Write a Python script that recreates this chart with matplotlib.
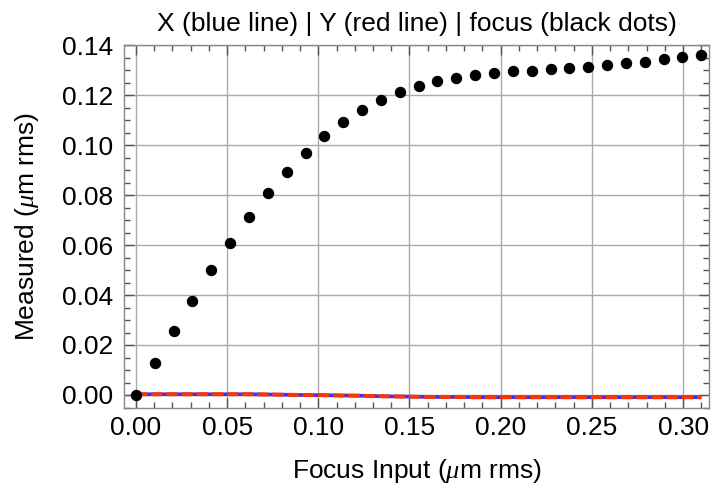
import numpy as np
import matplotlib
matplotlib.use("Agg")
import matplotlib.pyplot as plt
from matplotlib.ticker import MultipleLocator, FormatStrFormatter

# Data
focus_input = [i * 0.31 / 30 for i in range(31)]
focus_measured = [0.0000, 0.0129, 0.0256, 0.0375, 0.0500, 0.0608, 0.0712, 0.0808,
                  0.0892, 0.0968, 0.1036, 0.1093, 0.1140, 0.1180, 0.1212, 0.1236,
                  0.1257, 0.1268, 0.1281, 0.1289, 0.1295, 0.1298, 0.1304, 0.1308,
                  0.1313, 0.1322, 0.1329, 0.1334, 0.1344, 0.1353, 0.1361]
x_measured = [0.0003, 0.0003, 0.0003, 0.0003, 0.0003, 0.0003, 0.0003, 0.0002,
              0.0001, 0.0000, -0.0001, -0.0002, -0.0003, -0.0005, -0.0006, -0.0007,
              -0.0008, -0.0008, -0.0009, -0.0009, -0.0009, -0.0009, -0.0009, -0.0009,
              -0.0009, -0.0009, -0.0009, -0.0009, -0.0009, -0.0009, -0.0009]
y_measured = [0.0003, 0.0003, 0.0003, 0.0003, 0.0003, 0.0003, 0.0003, 0.0002,
              0.0001, 0.0000, -0.0001, -0.0002, -0.0003, -0.0005, -0.0006, -0.0007,
              -0.0008, -0.0008, -0.0009, -0.0009, -0.0009, -0.0009, -0.0009, -0.0009,
              -0.0009, -0.0009, -0.0009, -0.0009, -0.0009, -0.0009, -0.0009]

plt.rcParams['font.family'] = ['Liberation Sans', 'DejaVu Sans']
plt.rcParams['mathtext.fontset'] = 'custom'
plt.rcParams['mathtext.it'] = 'Liberation Serif:italic'
plt.rcParams['mathtext.rm'] = 'Liberation Sans'

fig = plt.figure(figsize=(7.12, 4.88), dpi=100)
ax = fig.add_axes([124/712, 80/488, (709-124)/712, (408-45)/488])

ax.plot(focus_input, x_measured, color='#3030ff', lw=2.6, solid_capstyle='butt', zorder=3)
ax.plot(focus_input, y_measured, color='#ff3300', lw=2.8, dashes=(3.0, 0.9), zorder=4)
ax.plot(focus_input, focus_measured, 'o', color='black', ms=7.2, zorder=5)

ax.set_xlim(-0.0065, 0.3142)
ax.set_ylim(-0.0052, 0.14)

ax.xaxis.set_major_locator(MultipleLocator(0.05))
ax.xaxis.set_minor_locator(MultipleLocator(0.01))
ax.yaxis.set_major_locator(MultipleLocator(0.02))
ax.yaxis.set_minor_locator(MultipleLocator(0.005))
ax.xaxis.set_major_formatter(FormatStrFormatter('%.2f'))
ax.yaxis.set_major_formatter(FormatStrFormatter('%.2f'))

ax.tick_params(which='both', direction='in', top=True, right=True, color='#555555',
               labelsize=19, width=1)
ax.tick_params(which='major', length=7)
ax.tick_params(which='minor', length=4)
ax.tick_params(axis='x', which='major', pad=6)
ax.tick_params(axis='y', which='major', pad=8)

ax.grid(True, which='major', color='#aaaaaa', lw=1)
ax.set_axisbelow(True)
for s in ax.spines.values():
    s.set_color('#888888')
    s.set_linewidth(1)

ax.set_title('X (blue line) | Y (red line) | focus (black dots)', fontsize=19, pad=10)
ax.set_xlabel(r'Focus Input ($\mu$m rms)', fontsize=19, labelpad=12)
ax.set_ylabel(r'Measured ($\mu$m rms)', fontsize=19, labelpad=15)

fig.savefig('out.png', dpi=100)
